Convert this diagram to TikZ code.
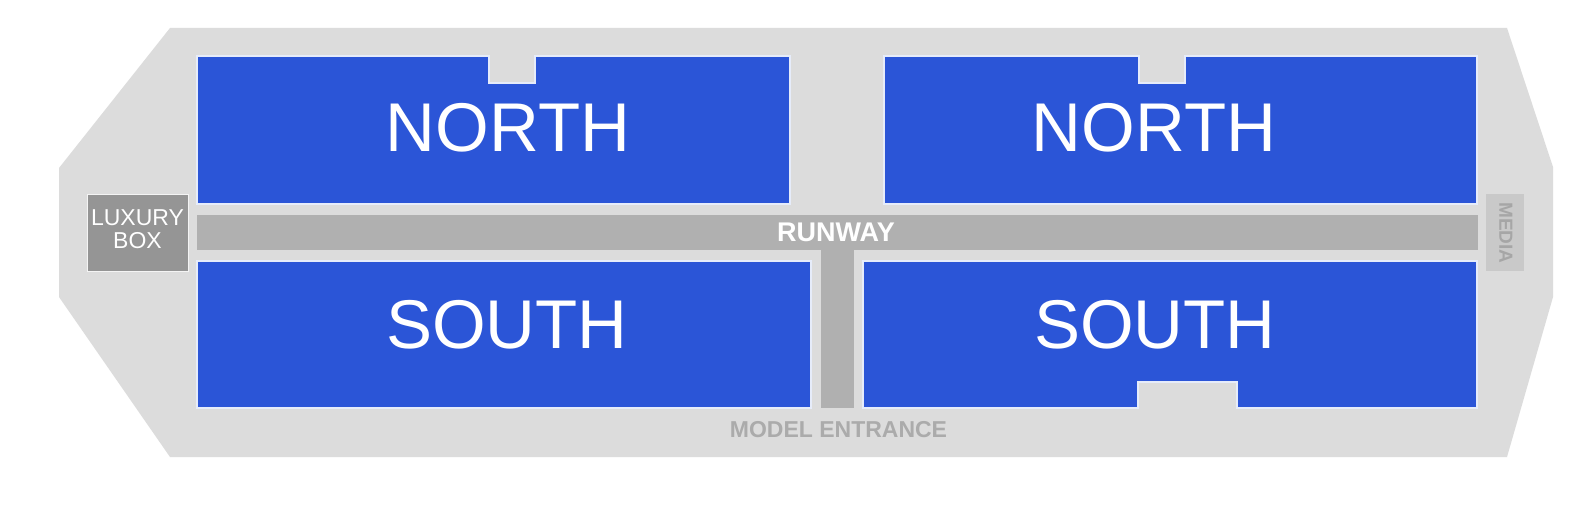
\documentclass[tikz,border=0pt]{standalone}
\usepackage{fontspec}
\setmainfont{Liberation Sans}
\definecolor{hall}{HTML}{DCDCDC}
\definecolor{seat}{HTML}{2B55D7}
\definecolor{seatedge}{HTML}{E6ECFA}
\definecolor{runway}{HTML}{B0B0B0}
\definecolor{luxury}{HTML}{959595}
\definecolor{media}{HTML}{C9C9C9}
\definecolor{mediatext}{HTML}{A6A6A6}
\definecolor{entrance}{HTML}{ABABAB}
\tikzset{
  seatblock/.style={fill=seat, draw=seatedge, line width=1.2pt, line join=miter},
  zonelabel/.style={text=white, inner sep=0pt, font=\fontsize{69}{70}\selectfont},
  runwaybar/.style={fill=runway},
}
\begin{document}
\begin{tikzpicture}[x=1pt,y=-1pt]
\useasboundingbox (0,0) rectangle (1588,516);
\fill[white] (0,0) rectangle (1588,516);
% hall outline
\fill[hall] (170,28) -- (1507,28) -- (1553,167) -- (1553,297) -- (1507,457) -- (170,457) -- (59,297) -- (59,168) -- cycle;
% seating blocks
\draw[seatblock] (197,56) -- (489,56) -- (489,83) -- (535,83) -- (535,56) -- (790,56) -- (790,204) -- (197,204) -- cycle;
\draw[seatblock] (884,56) -- (1139,56) -- (1139,83) -- (1185,83) -- (1185,56) -- (1477,56) -- (1477,204) -- (884,204) -- cycle;
\draw[seatblock] (197,261) -- (811,261) -- (811,408) -- (197,408) -- cycle;
\draw[seatblock] (863,261) -- (1477,261) -- (1477,408) -- (1237,408) -- (1237,382) -- (1138,382) -- (1138,408) -- (863,408) -- cycle;
% runway
\fill[runwaybar] (197,215) rectangle (1478,250);
\fill[runwaybar] (821,250) rectangle (854,408);
% luxury box
\draw[fill=luxury, draw=white!90!luxury, line width=0.8pt] (87,194) rectangle (188,271);
\node[text=white, inner sep=0pt, align=center, font=\fontsize{23}{23.5}\selectfont] (lux) at (137.5,229) {LUXURY\\BOX};
% media box
\fill[media] (1486,194) rectangle (1524,271);
\node[text=mediatext, inner sep=0pt, rotate=-90, font=\fontsize{19}{19}\selectfont\bfseries] (media) at (1506,233) {MEDIA};
% labels
\node[zonelabel] (n1) at (508,128) {NORTH};
\node[zonelabel] (n2) at (1154,128) {NORTH};
\node[zonelabel] (s1) at (507,325) {SOUTH};
\node[zonelabel] (s2) at (1155,325) {SOUTH};
\node[text=white, inner sep=0pt, font=\fontsize{27}{27}\selectfont\bfseries] (rw) at (836,232) {RUNWAY};
\node[text=entrance, inner sep=0pt, font=\fontsize{23}{23}\selectfont\bfseries] (me) at (838.5,430) {MODEL ENTRANCE};
\end{tikzpicture}
\end{document}
